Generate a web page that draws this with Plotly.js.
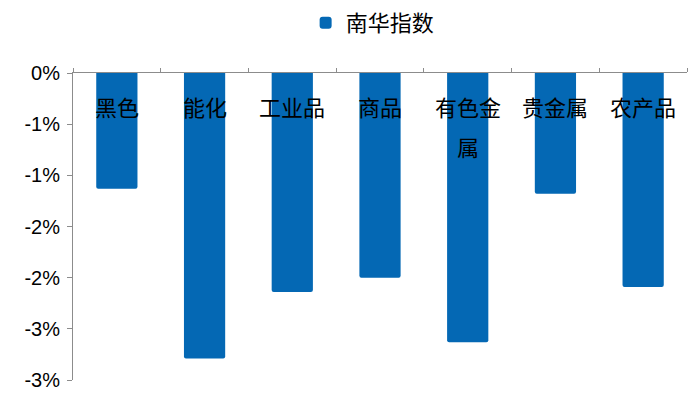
<!DOCTYPE html>
<html><head><meta charset="utf-8">
<script src="https://cdn.plot.ly/plotly-3.0.1.min.js"></script>
<style>html,body{margin:0;padding:0;background:#fff}</style>
</head><body><div id="chart" style="width:693px;height:399px"></div>
<script>
const categories = ["黑色", "能化", "工业品", "商品", "有色金属", "贵金属", "农产品"];
const categoryLabelLines = [["黑色"], ["能化"], ["工业品"], ["商品"], ["有色金", "属"], ["贵金属"], ["农产品"]];
const seriesName = "南华指数";
const values = [-1.13, -2.79, -2.14, -2.00, -2.63, -1.18, -2.09];
const tickVals = [0, -0.5, -1, -1.5, -2, -2.5, -3];
const tickText = ["0%", "-1%", "-1%", "-2%", "-2%", "-3%", "-3%"];

const cjk = '"Noto Sans CJK SC", "Noto Sans", sans-serif';
const trace = {
  type: "bar", name: seriesName, x: categories, y: values,
  marker: {color: "#0468b4", cornerradius: 2},
  hoverinfo: "skip"
};
const annotations = [];
categories.forEach((c, i) => {
  categoryLabelLines[i].forEach((line, k) => {
    annotations.push({
      x: c, y: 0, xref: "x", yref: "y", text: line,
      showarrow: false, yanchor: "top", yshift: -15 - k * 40,
      font: {family: cjk, size: 22, color: "#000"}
    });
  });
});
const layout = {
  width: 693, height: 399,
  margin: {l: 73, r: 6, t: 73, b: 19},
  paper_bgcolor: "#fff", plot_bgcolor: "#fff",
  bargap: 0.53,
  showlegend: true,
  legend: {orientation: "h", x: 0.488, xanchor: "center", y: 0.995, yanchor: "top", yref: "container",
           font: {family: cjk, size: 22, color: "#000"}, itemwidth: 30},
  xaxis: {type: "category", side: "top", showline: true, linecolor: "#8c8c8c", linewidth: 1,
          ticks: "outside", tickson: "boundaries", ticklen: 4, tickcolor: "#8c8c8c",
          showticklabels: false, showgrid: false, zeroline: false, fixedrange: true},
  yaxis: {range: [-3, 0], tickvals: tickVals, ticktext: tickText, showline: true,
          linecolor: "#8c8c8c", linewidth: 1, ticks: "outside", ticklen: 5, tickcolor: "#8c8c8c",
          showgrid: false, zeroline: false, tickfont: {family: '"Liberation Sans", Arial, sans-serif', size: 20, color: "#000"},
          ticklabelstandoff: 3},
  annotations: annotations
};
Plotly.newPlot("chart", [trace], layout, {displayModeBar: false, staticPlot: true});
</script></body></html>
